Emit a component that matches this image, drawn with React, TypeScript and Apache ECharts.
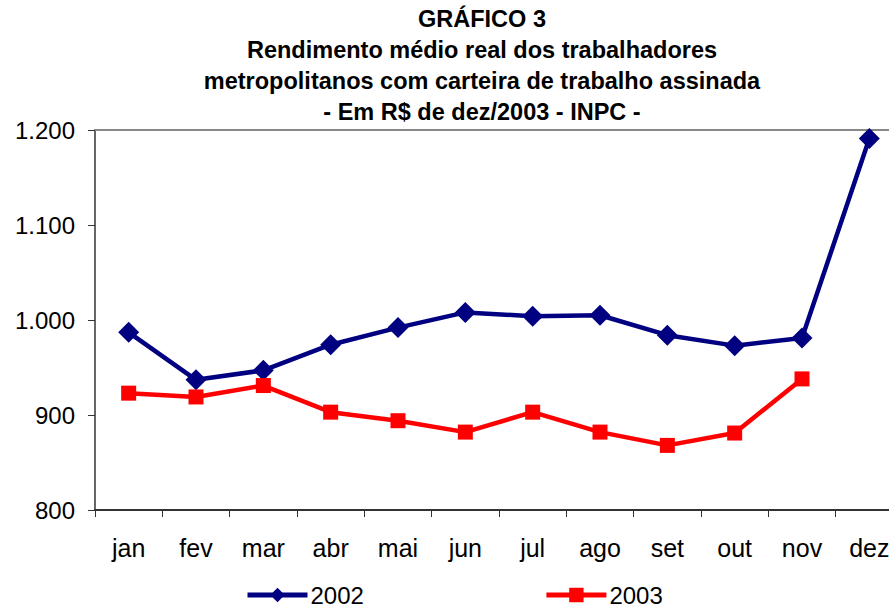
import React, { useEffect, useRef } from "react";
import * as echarts from "echarts";

const months = ["jan", "fev", "mar", "abr", "mai", "jun", "jul", "ago", "set", "out", "nov", "dez"];
const values2002 = [987, 937, 947, 974, 992, 1008, 1004, 1005, 984, 973, 981, 1191];
const values2003: (number | null)[] = [923, 919, 931, 903, 894, 882, 903, 882, 868, 881, 938, null];
const titleLines = [
  "GRÁFICO 3",
  "Rendimento médio real dos trabalhadores",
  "metropolitanos com carteira de trabalho assinada",
  "- Em R$ de dez/2003 - INPC -",
];
const yMin = 800;
const yMax = 1200;
const yStep = 100;

const FONT = "'Liberation Sans', Arial, sans-serif";

export default function App() {
  const ref = useRef<HTMLDivElement>(null);
  useEffect(() => {
    if (!ref.current) return;
    const chart = echarts.init(ref.current, undefined, { renderer: "svg" });
    chart.setOption({
      animation: false,
      backgroundColor: "#ffffff",
      textStyle: { fontFamily: FONT },
      title: {
        text: titleLines.join("\n"),
        left: 482,
        textAlign: "center",
        top: 3,
        padding: 0,
        textStyle: {
          fontFamily: FONT,
          fontSize: 23.5,
          fontWeight: "bold",
          color: "#000",
          lineHeight: 31,
        },
      },
      legend: {
        left: 245,
        top: 583,
        padding: 0,
        itemWidth: 60,
        itemHeight: 18,
        itemGap: 180,
        lineStyle: { width: 5 },
        textStyle: { fontFamily: FONT, fontSize: 24, color: "#000", padding: [0, 0, 0, -2] },
        data: ["2002", "2003"],
      },
      grid: { left: 95, top: 130, width: 808, height: 380, containLabel: false },
      xAxis: [
        {
          type: "category",
          data: months,
          boundaryGap: true,
          axisLine: { show: true, lineStyle: { color: "#333", width: 2 } },
          axisTick: { show: true, alignWithLabel: false, length: 7, lineStyle: { color: "#333", width: 1 } },
          axisLabel: { fontFamily: FONT, fontSize: 25, color: "#000", margin: 25 },
          splitLine: { show: false },
        },
        {
          type: "category",
          data: months,
          position: "top",
          axisLine: { show: true, lineStyle: { color: "#888", width: 2 } },
          axisTick: { show: false },
          axisLabel: { show: false },
        },
      ],
      yAxis: {
        type: "value",
        min: yMin,
        max: yMax,
        interval: yStep,
        axisLine: { show: true, lineStyle: { color: "#333", width: 1.5 } },
        axisTick: { show: true, inside: false, length: 7, lineStyle: { color: "#333" } },
        axisLabel: {
          fontFamily: FONT,
          fontSize: 24,
          color: "#000",
          margin: 20,
          formatter: (v: number) => v.toLocaleString("de-DE"),
        },
        splitLine: { show: false },
      },
      series: [
        {
          name: "2002",
          type: "line",
          data: values2002,
          symbol: "diamond",
          symbolSize: 21,
          lineStyle: { color: "#000080", width: 4.5 },
          itemStyle: { color: "#000080" },
        },
        {
          name: "2003",
          type: "line",
          data: values2003,
          symbol: "rect",
          symbolSize: 15,
          lineStyle: { color: "#ff0000", width: 4.5 },
          itemStyle: { color: "#ff0000" },
        },
      ],
    });
    return () => chart.dispose();
  }, []);
  return (
    <div style={{ position: "fixed", left: 0, top: 0, width: 889, height: 608, overflow: "hidden", background: "#fff" }}>
      <div ref={ref} style={{ width: 920, height: 608 }} />
    </div>
  );
}
